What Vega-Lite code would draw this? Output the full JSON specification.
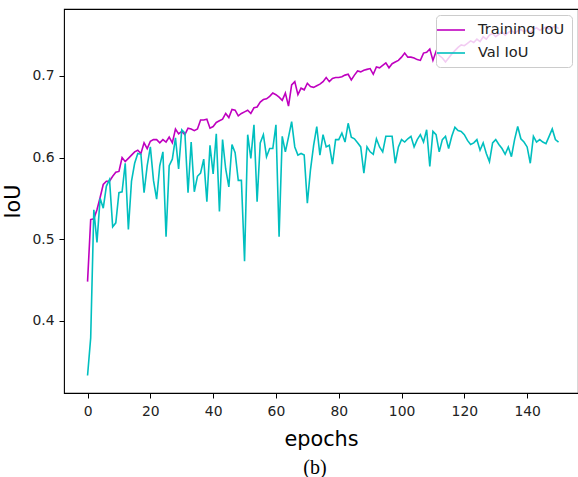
{
  "$schema": "https://vega.github.io/schema/vega-lite/v6.json",
  "autosize": "none",
  "padding": {"left": 64, "top": 9, "right": 0, "bottom": 84},
  "width": 514,
  "height": 384,
  "background": "white",
  "config": {
    "view": {"stroke": "#000000", "strokeWidth": 1.1},
    "font": "DejaVu Sans"
  },
  "title": {
    "text": "(b)",
    "orient": "bottom",
    "font": "Liberation Serif",
    "fontSize": 20,
    "fontWeight": "normal",
    "color": "#000000",
    "anchor": "middle",
    "baseline": "top",
    "offset": 8,
    "dx": -6
  },
  "data": {
    "values": [
      {"epoch": 0, "train": 0.448, "val": 0.333},
      {"epoch": 1, "train": 0.524, "val": 0.379},
      {"epoch": 2, "train": 0.525, "val": 0.536},
      {"epoch": 3, "train": 0.536, "val": 0.496},
      {"epoch": 4, "train": 0.551, "val": 0.550},
      {"epoch": 5, "train": 0.567, "val": 0.538},
      {"epoch": 6, "train": 0.571, "val": 0.565},
      {"epoch": 7, "train": 0.571, "val": 0.573},
      {"epoch": 8, "train": 0.577, "val": 0.515},
      {"epoch": 9, "train": 0.582, "val": 0.520},
      {"epoch": 10, "train": 0.583, "val": 0.557},
      {"epoch": 11, "train": 0.600, "val": 0.558},
      {"epoch": 12, "train": 0.595, "val": 0.593},
      {"epoch": 13, "train": 0.599, "val": 0.512},
      {"epoch": 14, "train": 0.603, "val": 0.571},
      {"epoch": 15, "train": 0.607, "val": 0.593},
      {"epoch": 16, "train": 0.609, "val": 0.605},
      {"epoch": 17, "train": 0.605, "val": 0.604},
      {"epoch": 18, "train": 0.618, "val": 0.557},
      {"epoch": 19, "train": 0.611, "val": 0.590},
      {"epoch": 20, "train": 0.620, "val": 0.613},
      {"epoch": 21, "train": 0.622, "val": 0.572},
      {"epoch": 22, "train": 0.622, "val": 0.549},
      {"epoch": 23, "train": 0.618, "val": 0.590},
      {"epoch": 24, "train": 0.622, "val": 0.607},
      {"epoch": 25, "train": 0.619, "val": 0.503},
      {"epoch": 26, "train": 0.625, "val": 0.590},
      {"epoch": 27, "train": 0.618, "val": 0.598},
      {"epoch": 28, "train": 0.635, "val": 0.624},
      {"epoch": 29, "train": 0.629, "val": 0.586},
      {"epoch": 30, "train": 0.632, "val": 0.634},
      {"epoch": 31, "train": 0.628, "val": 0.630},
      {"epoch": 32, "train": 0.636, "val": 0.557},
      {"epoch": 33, "train": 0.635, "val": 0.619},
      {"epoch": 34, "train": 0.633, "val": 0.558},
      {"epoch": 35, "train": 0.635, "val": 0.577},
      {"epoch": 36, "train": 0.646, "val": 0.581},
      {"epoch": 37, "train": 0.646, "val": 0.598},
      {"epoch": 38, "train": 0.647, "val": 0.546},
      {"epoch": 39, "train": 0.636, "val": 0.615},
      {"epoch": 40, "train": 0.638, "val": 0.580},
      {"epoch": 41, "train": 0.643, "val": 0.629},
      {"epoch": 42, "train": 0.645, "val": 0.534},
      {"epoch": 43, "train": 0.647, "val": 0.622},
      {"epoch": 44, "train": 0.654, "val": 0.586},
      {"epoch": 45, "train": 0.649, "val": 0.564},
      {"epoch": 46, "train": 0.659, "val": 0.616},
      {"epoch": 47, "train": 0.658, "val": 0.606},
      {"epoch": 48, "train": 0.651, "val": 0.572},
      {"epoch": 49, "train": 0.654, "val": 0.572},
      {"epoch": 50, "train": 0.656, "val": 0.473},
      {"epoch": 51, "train": 0.658, "val": 0.628},
      {"epoch": 52, "train": 0.654, "val": 0.599},
      {"epoch": 53, "train": 0.661, "val": 0.640},
      {"epoch": 54, "train": 0.662, "val": 0.546},
      {"epoch": 55, "train": 0.668, "val": 0.618},
      {"epoch": 56, "train": 0.671, "val": 0.628},
      {"epoch": 57, "train": 0.672, "val": 0.601},
      {"epoch": 58, "train": 0.675, "val": 0.611},
      {"epoch": 59, "train": 0.679, "val": 0.611},
      {"epoch": 60, "train": 0.677, "val": 0.640},
      {"epoch": 61, "train": 0.674, "val": 0.503},
      {"epoch": 62, "train": 0.670, "val": 0.626},
      {"epoch": 63, "train": 0.679, "val": 0.607},
      {"epoch": 64, "train": 0.663, "val": 0.625},
      {"epoch": 65, "train": 0.689, "val": 0.644},
      {"epoch": 66, "train": 0.693, "val": 0.613},
      {"epoch": 67, "train": 0.677, "val": 0.603},
      {"epoch": 68, "train": 0.685, "val": 0.605},
      {"epoch": 69, "train": 0.683, "val": 0.603},
      {"epoch": 70, "train": 0.691, "val": 0.544},
      {"epoch": 71, "train": 0.687, "val": 0.585},
      {"epoch": 72, "train": 0.686, "val": 0.615},
      {"epoch": 73, "train": 0.688, "val": 0.638},
      {"epoch": 74, "train": 0.690, "val": 0.603},
      {"epoch": 75, "train": 0.693, "val": 0.628},
      {"epoch": 76, "train": 0.698, "val": 0.613},
      {"epoch": 77, "train": 0.693, "val": 0.615},
      {"epoch": 78, "train": 0.697, "val": 0.592},
      {"epoch": 79, "train": 0.698, "val": 0.622},
      {"epoch": 80, "train": 0.698, "val": 0.622},
      {"epoch": 81, "train": 0.699, "val": 0.630},
      {"epoch": 82, "train": 0.701, "val": 0.619},
      {"epoch": 83, "train": 0.702, "val": 0.642},
      {"epoch": 84, "train": 0.695, "val": 0.625},
      {"epoch": 85, "train": 0.701, "val": 0.623},
      {"epoch": 86, "train": 0.706, "val": 0.618},
      {"epoch": 87, "train": 0.705, "val": 0.613},
      {"epoch": 88, "train": 0.707, "val": 0.581},
      {"epoch": 89, "train": 0.708, "val": 0.613},
      {"epoch": 90, "train": 0.709, "val": 0.607},
      {"epoch": 91, "train": 0.702, "val": 0.604},
      {"epoch": 92, "train": 0.711, "val": 0.623},
      {"epoch": 93, "train": 0.710, "val": 0.613},
      {"epoch": 94, "train": 0.713, "val": 0.607},
      {"epoch": 95, "train": 0.716, "val": 0.626},
      {"epoch": 96, "train": 0.710, "val": 0.626},
      {"epoch": 97, "train": 0.715, "val": 0.626},
      {"epoch": 98, "train": 0.717, "val": 0.593},
      {"epoch": 99, "train": 0.719, "val": 0.613},
      {"epoch": 100, "train": 0.723, "val": 0.622},
      {"epoch": 101, "train": 0.728, "val": 0.619},
      {"epoch": 102, "train": 0.723, "val": 0.623},
      {"epoch": 103, "train": 0.723, "val": 0.626},
      {"epoch": 104, "train": 0.722, "val": 0.613},
      {"epoch": 105, "train": 0.720, "val": 0.622},
      {"epoch": 106, "train": 0.719, "val": 0.628},
      {"epoch": 107, "train": 0.728, "val": 0.619},
      {"epoch": 108, "train": 0.729, "val": 0.634},
      {"epoch": 109, "train": 0.733, "val": 0.589},
      {"epoch": 110, "train": 0.719, "val": 0.632},
      {"epoch": 111, "train": 0.730, "val": 0.628},
      {"epoch": 112, "train": 0.725, "val": 0.607},
      {"epoch": 113, "train": 0.722, "val": 0.622},
      {"epoch": 114, "train": 0.717, "val": 0.626},
      {"epoch": 115, "train": 0.722, "val": 0.611},
      {"epoch": 116, "train": 0.727, "val": 0.626},
      {"epoch": 117, "train": 0.731, "val": 0.637},
      {"epoch": 118, "train": 0.735, "val": 0.633},
      {"epoch": 119, "train": 0.738, "val": 0.632},
      {"epoch": 120, "train": 0.737, "val": 0.628},
      {"epoch": 121, "train": 0.740, "val": 0.621},
      {"epoch": 122, "train": 0.743, "val": 0.616},
      {"epoch": 123, "train": 0.741, "val": 0.618},
      {"epoch": 124, "train": 0.745, "val": 0.622},
      {"epoch": 125, "train": 0.742, "val": 0.609},
      {"epoch": 126, "train": 0.748, "val": 0.618},
      {"epoch": 127, "train": 0.745, "val": 0.605},
      {"epoch": 128, "train": 0.750, "val": 0.595},
      {"epoch": 129, "train": 0.752, "val": 0.618},
      {"epoch": 130, "train": 0.748, "val": 0.622},
      {"epoch": 131, "train": 0.751, "val": 0.616},
      {"epoch": 132, "train": 0.754, "val": 0.611},
      {"epoch": 133, "train": 0.750, "val": 0.604},
      {"epoch": 134, "train": 0.753, "val": 0.613},
      {"epoch": 135, "train": 0.756, "val": 0.601},
      {"epoch": 136, "train": 0.752, "val": 0.622},
      {"epoch": 137, "train": 0.755, "val": 0.638},
      {"epoch": 138, "train": 0.757, "val": 0.623},
      {"epoch": 139, "train": 0.754, "val": 0.619},
      {"epoch": 140, "train": 0.756, "val": 0.613},
      {"epoch": 141, "train": 0.753, "val": 0.593},
      {"epoch": 142, "train": 0.757, "val": 0.626},
      {"epoch": 143, "train": 0.759, "val": 0.619},
      {"epoch": 144, "train": 0.756, "val": 0.622},
      {"epoch": 145, "train": 0.758, "val": 0.619},
      {"epoch": 146, "train": 0.760, "val": 0.617},
      {"epoch": 147, "train": 0.757, "val": 0.626},
      {"epoch": 148, "train": 0.759, "val": 0.635},
      {"epoch": 149, "train": 0.761, "val": 0.622},
      {"epoch": 150, "train": 0.758, "val": 0.619}
    ]
  },
  "transform": [
    {"fold": ["train", "val"], "as": ["series", "iou"]}
  ],
  "mark": {"type": "line", "strokeWidth": 1.6, "clip": true},
  "encoding": {
    "x": {
      "field": "epoch",
      "type": "quantitative",
      "scale": {"domain": [-7.5, 156.2], "nice": false, "zero": false},
      "axis": {
        "values": [0, 20, 40, 60, 80, 100, 120, 140],
        "title": "epochs",
        "grid": false,
        "domain": false,
        "tickColor": "#000000",
        "tickSize": 5,
        "tickWidth": 1,
        "labelFont": "DejaVu Sans",
        "labelFontSize": 13.9,
        "labelColor": "#222222",
        "labelPadding": 6,
        "titleFont": "DejaVu Sans",
        "titleFontSize": 20.8,
        "titleFontWeight": "normal",
        "titleColor": "#000000",
        "titlePadding": 12
      }
    },
    "y": {
      "field": "iou",
      "type": "quantitative",
      "scale": {"domain": [0.3115, 0.782], "nice": false, "zero": false},
      "axis": {
        "values": [0.4, 0.5, 0.6, 0.7],
        "format": ".1f",
        "title": "IoU",
        "grid": false,
        "domain": false,
        "tickColor": "#000000",
        "tickSize": 5,
        "tickWidth": 1,
        "labelFont": "DejaVu Sans",
        "labelFontSize": 13.9,
        "labelColor": "#222222",
        "labelPadding": 5,
        "titleFont": "DejaVu Sans",
        "titleFontSize": 20.8,
        "titleFontWeight": "normal",
        "titleColor": "#000000",
        "titlePadding": 8
      }
    },
    "color": {
      "field": "series",
      "type": "nominal",
      "scale": {"domain": ["train", "val"], "range": ["#bf00bf", "#00bfbf"]},
      "legend": {
        "title": null,
        "orient": "none",
        "legendX": 372,
        "legendY": 6,
        "labelExpr": "datum.label == 'train' ? 'Training IoU' : 'Val IoU'",
        "symbolType": "M-2,0H2",
        "symbolSize": 196,
        "symbolStrokeWidth": 1.6,
        "labelFont": "DejaVu Sans",
        "labelFontSize": 14.6,
        "labelColor": "#222222",
        "labelOffset": 19,
        "rowPadding": 8,
        "padding": 7,
        "fillColor": "rgba(255,255,255,0.8)",
        "strokeColor": "#cccccc",
        "cornerRadius": 4
      }
    }
  }
}
